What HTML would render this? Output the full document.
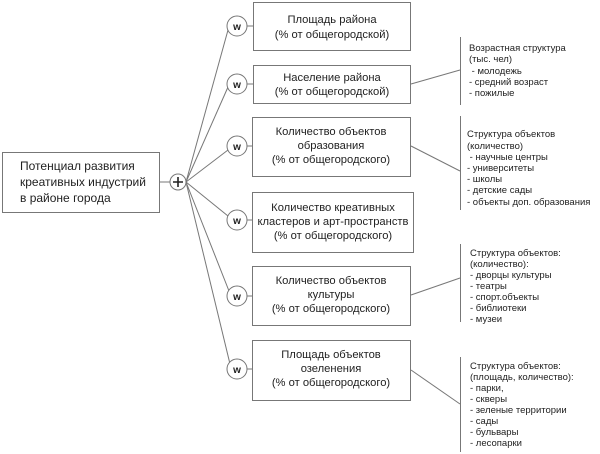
<!DOCTYPE html>
<html><head><meta charset="utf-8"><style>
html,body{margin:0;padding:0;background:#fff;}
svg{display:block;}
text{font-family:"Liberation Sans",Arial,sans-serif;fill:#222;}
.b{font-size:11.2px;text-anchor:middle;}
.s{font-size:9.5px;}
</style></head><body>
<svg width="600" height="454" viewBox="0 0 600 454">
<g stroke="#777" stroke-width="1" fill="none">
<rect x="2.5" y="152.5" width="157" height="60"/>
<line x1="160" y1="182" x2="170" y2="182"/>
<circle cx="178" cy="182" r="8" fill="#fff"/>
<line x1="186" y1="182" x2="228" y2="30"/>
<line x1="186" y1="182" x2="228" y2="87"/>
<line x1="186" y1="182" x2="228" y2="150"/>
<line x1="186" y1="182" x2="228" y2="216"/>
<line x1="186" y1="182" x2="229" y2="291"/>
<line x1="186" y1="182" x2="230" y2="364"/>
<circle cx="237" cy="26" r="10" fill="#fff"/>
<circle cx="237" cy="84" r="10" fill="#fff"/>
<circle cx="237" cy="146" r="10" fill="#fff"/>
<circle cx="237" cy="220" r="10" fill="#fff"/>
<circle cx="237" cy="296" r="10" fill="#fff"/>
<circle cx="237" cy="369" r="10" fill="#fff"/>
<line x1="247" y1="26" x2="253" y2="26"/>
<line x1="247" y1="84" x2="253" y2="84"/>
<line x1="247" y1="146" x2="253" y2="146"/>
<line x1="247" y1="220" x2="253" y2="220"/>
<line x1="247" y1="296" x2="252" y2="296"/>
<line x1="247" y1="369" x2="252" y2="369"/>
<rect x="253.5" y="2.5" width="157" height="48"/>
<rect x="253.5" y="65.5" width="157" height="38"/>
<rect x="252.5" y="117.5" width="158" height="59"/>
<rect x="252.5" y="192.5" width="161" height="60"/>
<rect x="252.5" y="266.5" width="158" height="59"/>
<rect x="252.5" y="340.5" width="158" height="60"/>
<line x1="411" y1="84" x2="460" y2="70"/>
<line x1="411" y1="146" x2="460" y2="171"/>
<line x1="411" y1="295" x2="460" y2="278"/>
<line x1="411" y1="370" x2="460" y2="404"/>
<line x1="460.5" y1="37" x2="460.5" y2="105"/>
<line x1="460.5" y1="116" x2="460.5" y2="210"/>
<line x1="460.5" y1="244" x2="460.5" y2="322"/>
<line x1="460.5" y1="357" x2="460.5" y2="452"/>
</g>
<path d="M173 182h10M178 177v10" stroke="#222" stroke-width="1.6"/>
<g font-size="10" font-weight="bold" text-anchor="middle">
<text x="237" y="30">w</text><text x="237" y="88">w</text><text x="237" y="150">w</text>
<text x="237" y="224">w</text><text x="237" y="300">w</text><text x="237" y="373">w</text>
</g>
<text style="font-size:12px"><tspan x="20" y="170">Потенциал развития</tspan><tspan x="20" y="186">креативных индустрий</tspan><tspan x="20" y="202">в районе города</tspan></text>
<text class="b"><tspan x="332" y="23">Площадь района</tspan><tspan x="332" y="38">(% от общегородской)</tspan></text>
<text class="b"><tspan x="332" y="81">Население района</tspan><tspan x="332" y="95">(% от общегородской)</tspan></text>
<text class="b"><tspan x="331" y="135">Количество объектов</tspan><tspan x="331" y="149">образования</tspan><tspan x="331" y="163">(% от общегородского)</tspan></text>
<text class="b"><tspan x="333" y="211">Количество креативных</tspan><tspan x="333" y="225">кластеров и арт-пространств</tspan><tspan x="333" y="239">(% от общегородского)</tspan></text>
<text class="b"><tspan x="331" y="284">Количество объектов</tspan><tspan x="331" y="298">культуры</tspan><tspan x="331" y="312">(% от общегородского)</tspan></text>
<text class="b"><tspan x="331" y="358">Площадь объектов</tspan><tspan x="331" y="372">озеленения</tspan><tspan x="331" y="386">(% от общегородского)</tspan></text>
<text class="s"><tspan x="469" y="51">Возрастная структура</tspan><tspan x="469" y="62">(тыс. чел)</tspan><tspan x="469" y="74"> - молодежь</tspan><tspan x="469" y="85">-  средний возраст</tspan><tspan x="469" y="96">-  пожилые</tspan></text>
<text class="s"><tspan x="467" y="137">Структура объектов</tspan><tspan x="467" y="149">(количество)</tspan><tspan x="467" y="160"> - научные центры</tspan><tspan x="467" y="171">-  университеты</tspan><tspan x="467" y="182">-  школы</tspan><tspan x="467" y="193">-  детские сады</tspan><tspan x="467" y="205">- объекты доп. образования</tspan></text>
<text class="s"><tspan x="470" y="256">Структура объектов:</tspan><tspan x="470" y="267">(количество):</tspan><tspan x="470" y="278">- дворцы культуры</tspan><tspan x="470" y="289">- театры</tspan><tspan x="470" y="300">- спорт.объекты</tspan><tspan x="470" y="311">-  библиотеки</tspan><tspan x="470" y="322">- музеи</tspan></text>
<text class="s"><tspan x="470" y="369">Структура объектов:</tspan><tspan x="470" y="380">(площадь, количество):</tspan><tspan x="470" y="391">- парки,</tspan><tspan x="470" y="402">- скверы</tspan><tspan x="470" y="413">- зеленые территории</tspan><tspan x="470" y="424">- сады</tspan><tspan x="470" y="435">- бульвары</tspan><tspan x="470" y="446">- лесопарки</tspan></text>
</svg>
</body></html>
